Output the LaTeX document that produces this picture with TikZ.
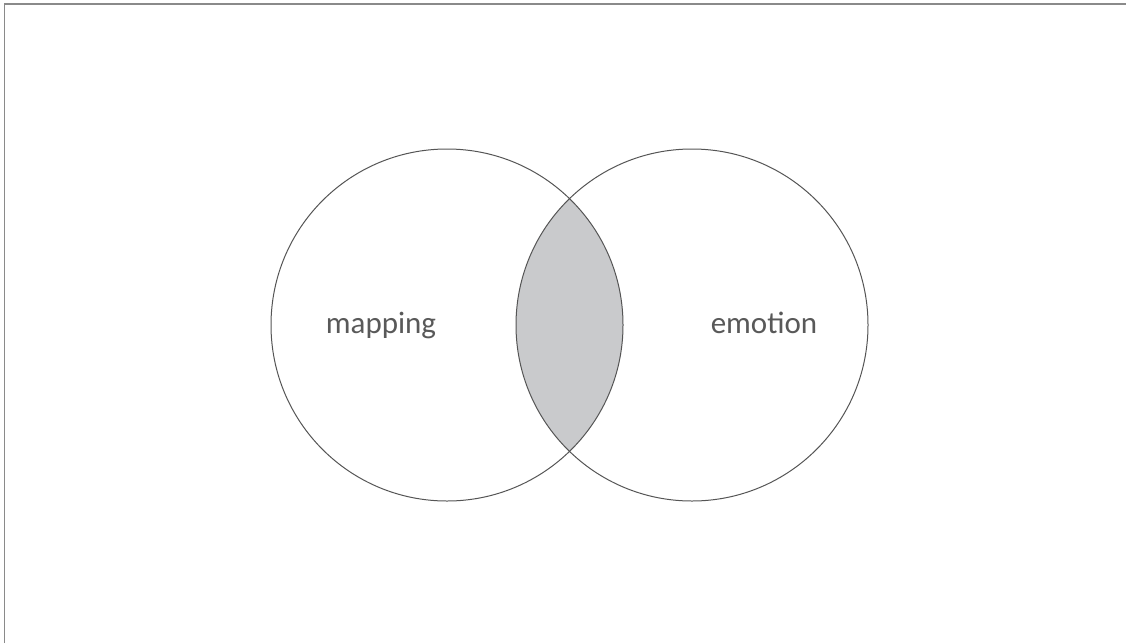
\documentclass[tikz,border=0pt]{standalone}
\usepackage{fontspec}
\setmainfont{Carlito}
\definecolor{linegray}{HTML}{555555}
\definecolor{textgray}{HTML}{595959}
\definecolor{fillgray}{HTML}{C9CACC}
\definecolor{framegray}{HTML}{8A8A8A}
\begin{document}
\begin{tikzpicture}[x=1pt,y=-1pt,
  vcircle/.style={draw=linegray,line width=1pt},
  vlabel/.style={text=textgray,font=\fontsize{31}{36}\selectfont,inner sep=0pt}]
\useasboundingbox (0,0) rectangle (1126,643);
\fill[white] (0,0) rectangle (1126,643);
\draw[framegray,line width=1.2pt] (4.5,643) -- (4.5,4) -- (1126,4);
\coordinate (cl) at (447,325);
\coordinate (cr) at (692,325);
\begin{scope}
  \clip (cl) circle[radius=176];
  \fill[fillgray] (cr) circle[radius=176];
\end{scope}
\draw[vcircle] (cl) circle[radius=176];
\draw[vcircle] (cr) circle[radius=176];
\node[vlabel] (mapping) at (381,325) {mapping};
\node[vlabel] (emotion) at (764,323) {emotion};
\end{tikzpicture}
\end{document}
